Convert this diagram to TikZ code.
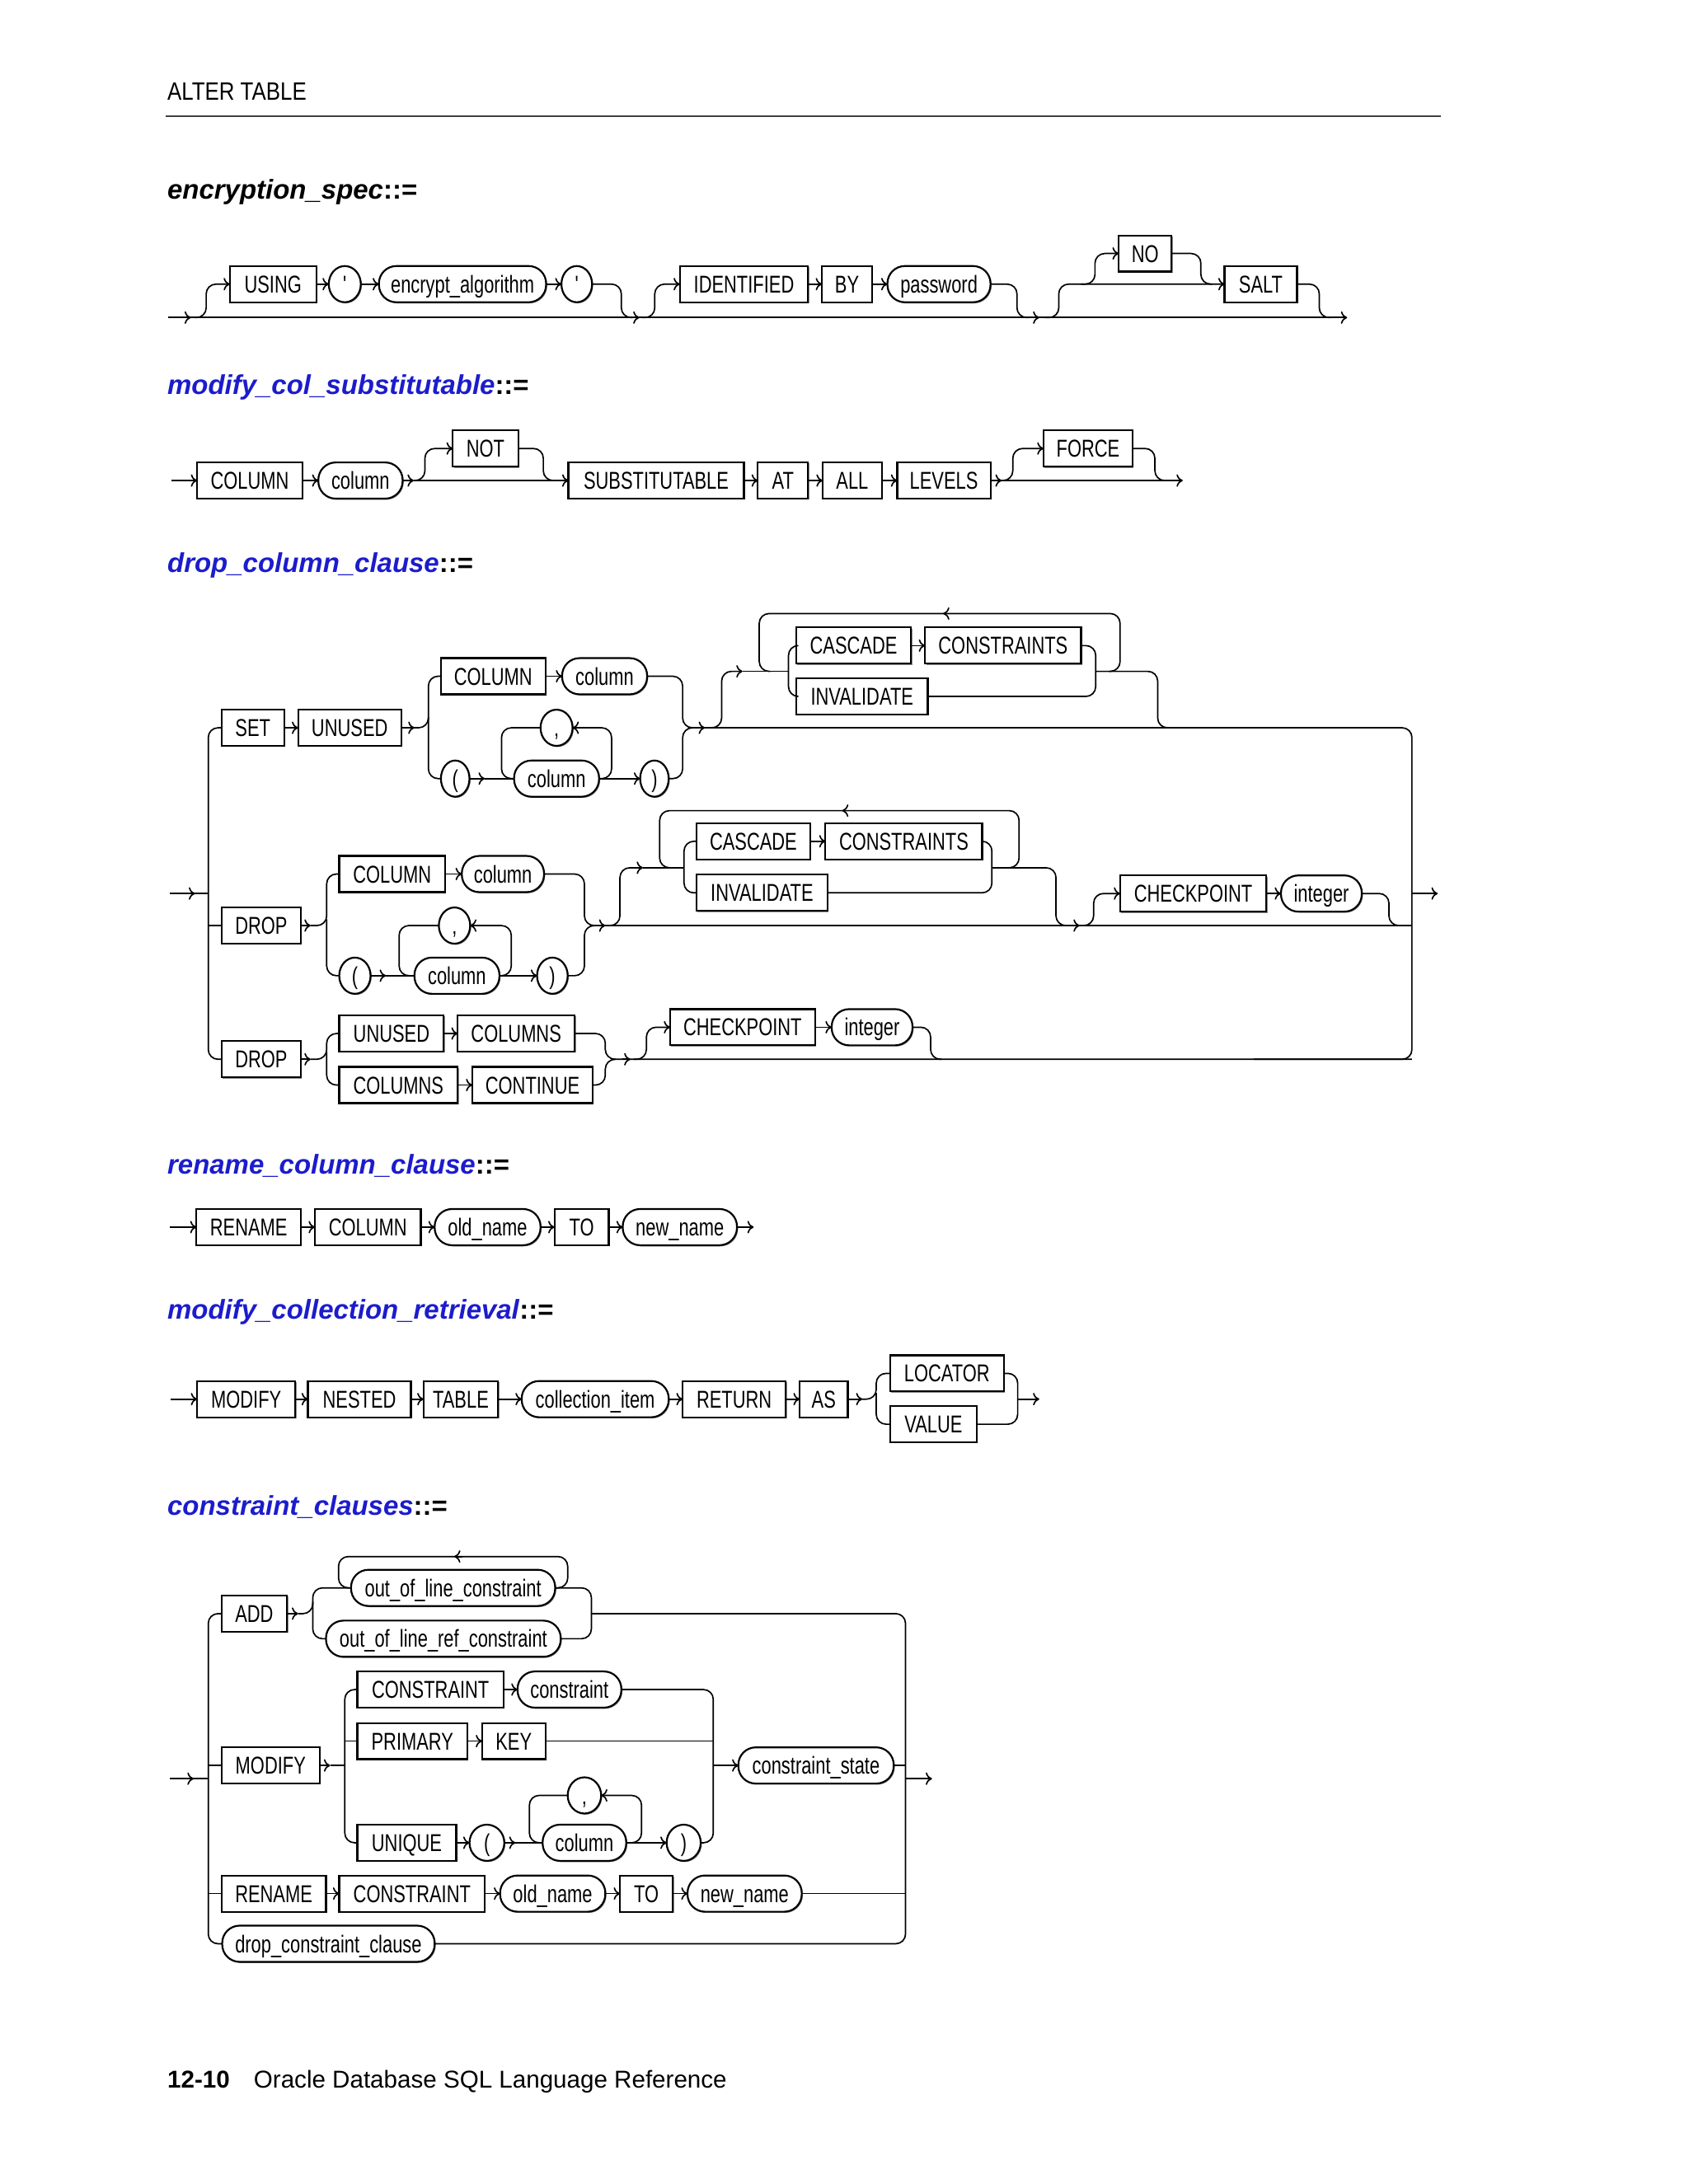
\documentclass[tikz,border=0pt]{standalone}
\usepackage{fontspec}
\setmainfont{Liberation Sans}
\newfontfamily\narrowfont[FakeStretch=0.74]{Liberation Sans}
\newfontfamily\headfont[FakeStretch=0.85]{Liberation Sans}
\usetikzlibrary{arrows.meta,shadows,shapes.geometric}
\definecolor{ttlblue}{RGB}{28,28,204}
\tikzset{
  rail/.style={line width=1pt, rounded corners=7pt},
  arr/.style={-{Computer Modern Rightarrow[length=4.5pt,width=9pt]}},
  box/.style={draw, line width=1.3pt, inner sep=0pt, outer sep=0pt,
    minimum height=26pt, text height=12.5pt, text depth=0pt,
    font=\narrowfont\fontsize{17.5}{20}\selectfont, fill=white,
    drop shadow={shadow xshift=0.8pt, shadow yshift=-0.8pt, fill=black, opacity=0.45}},
  kw/.style={box, rectangle},
  nt/.style={box, rectangle, rounded corners=12.5pt},
  ov/.style={box, ellipse},
  ttl/.style={anchor=base west, inner sep=0pt, font=\bfseries\fontsize{19.5}{22}\selectfont},
  plain/.style={anchor=base west, inner sep=0pt},
}
\newcommand\KW[5]{\node[kw,minimum width={((#3)-(#2))*1pt}] (#1) at ({((#2)+(#3))/2},#4) {#5};}
\newcommand\NT[5]{\node[nt,minimum width={((#3)-(#2))*1pt}] (#1) at ({((#2)+(#3))/2},#4) {#5};}
\newcommand\OV[5]{\node[ov,minimum width={((#3)-(#2))*1pt}] (#1) at ({((#2)+(#3))/2},#4) {#5};}
\newcommand\midarr[2]{\draw[rail,arr] ({#1-6},#2) -- (#1,#2);}
\newcommand\midarl[2]{\draw[rail,arr] ({#1+6},#2) -- (#1,#2);}
\begin{document}
\begin{tikzpicture}[x=1pt,y=-1pt]
\fill[white] (0,0) rectangle (1212,1568);
\useasboundingbox (0,0) rectangle (1212,1568);

% ---------- header ----------
\node[plain, font=\headfont\fontsize{18}{20}\selectfont] (hdr) at (120,72) {ALTER TABLE};
\coordinate (hl) at (119,83.5); \coordinate (hr) at (1034,83.5);
\draw[line width=0.9pt, black!75] (hl) -- (hr);

% ---------- encryption_spec ----------
\node[ttl] (t1) at (120,143) {\textit{encryption\_spec}::=};
\KW{using}{165}{227}{204}{USING}
\OV{qa}{236}{259}{204}{'}
\NT{encalg}{272}{392}{204}{encrypt\_algorithm}
\OV{qb}{403}{425}{204}{'}
\KW{ident}{488}{580}{204}{IDENTIFIED}
\KW{by}{590}{626}{204}{BY}
\NT{pwd}{637}{711}{204}{password}
\KW{no}{803}{841}{182}{NO}
\KW{salt}{879}{931}{204}{SALT}
\coordinate (e0) at (121,228); \coordinate (e9) at (967,228);
\draw[rail,arr] (e0) -- (e9);
\midarr{137}{228}
\draw[rail,arr] (140,228) -- (148,228) -- (148,204) -- (using.west);
\draw[rail,arr] (using.east) -- (qa.west);
\draw[rail,arr] (qa.east) -- (encalg.west);
\draw[rail,arr] (encalg.east) -- (qb.west);
\draw[rail] (qb.east) -- (446,204) -- (446,228) -- (454,228);
\midarr{459}{228}
\draw[rail,arr] (461,228) -- (470,228) -- (470,204) -- (ident.west);
\draw[rail,arr] (ident.east) -- (by.west);
\draw[rail,arr] (by.east) -- (pwd.west);
\draw[rail] (pwd.east) -- (730,204) -- (730,228) -- (738,228);
\midarr{746}{228}
\draw[rail,arr] (750,228) -- (760,228) -- (760,204) -- (salt.west);
\draw[rail,arr] (776,204) -- (786,204) -- (786,182) -- (no.west);
\draw[rail] (no.east) -- (862,182) -- (862,204) -- (870,204);
\draw[rail] (salt.east) -- (947,204) -- (947,228) -- (955,228);

% ---------- modify_col_substitutable ----------
\node[ttl] (t2) at (120,283) {\textcolor{ttlblue}{\textit{modify\_col\_substitutable}}::=};
\KW{mcol}{141.5}{217}{345}{COLUMN}
\NT{mcolv}{228.5}{289}{345}{column}
\KW{not}{325}{372}{322}{NOT}
\KW{subst}{408}{534}{345}{SUBSTITUTABLE}
\KW{at}{544}{580}{345}{AT}
\KW{all}{590.5}{633}{345}{ALL}
\KW{levels}{644}{711}{345}{LEVELS}
\KW{force}{749}{813}{322}{FORCE}
\coordinate (m0) at (123,345); \coordinate (m9) at (849,345);
\draw[rail,arr] (m0) -- (mcol.west);
\draw[rail,arr] (mcol.east) -- (mcolv.west);
\draw[rail,arr] (mcolv.east) -- (297,345);
\draw[rail,arr] (297,345) -- (subst.west);
\draw[rail,arr] (297,345) -- (305,345) -- (305,322) -- (not.west);
\draw[rail] (not.east) -- (390,322) -- (390,345) -- (398,345);
\draw[rail,arr] (subst.east) -- (at.west);
\draw[rail,arr] (at.east) -- (all.west);
\draw[rail,arr] (all.east) -- (levels.west);
\draw[rail,arr] (levels.east) -- (719,345);
\draw[rail,arr] (719,345) -- (m9);
\draw[rail,arr] (719,345) -- (727,345) -- (727,322) -- (force.west);
\draw[rail] (force.east) -- (829,322) -- (829,345) -- (837,345);

% ---------- drop_column_clause ----------
\node[ttl] (t3) at (120,411) {\textcolor{ttlblue}{\textit{drop\_column\_clause}}::=};
% SET UNUSED branch
\KW{set}{159}{204}{522.5}{SET}
\KW{unused}{214}{288}{522.5}{UNUSED}
\KW{scol}{316.5}{391.5}{485.5}{COLUMN}
\NT{scolv}{403.5}{464.5}{485.5}{column}
\OV{slp}{316.5}{337}{559}{(}
\NT{scol2}{369}{430}{559}{column}
\OV{srp}{459.5}{480}{559}{)}
\OV{scom}{388}{411}{522.5}{,}
\KW{scasc}{571.5}{654}{463.5}{CASCADE}
\KW{scons}{664}{776}{463.5}{CONSTRAINTS}
\KW{sinv}{571.5}{666}{500}{INVALIDATE}
% DROP 1 branch
\KW{dropa}{159}{216}{664.5}{DROP}
\KW{dcol}{243.5}{319.5}{627.5}{COLUMN}
\NT{dcolv}{331.5}{390.5}{627.5}{column}
\OV{dlp}{243.5}{266}{700.5}{(}
\NT{dcol2}{297.5}{358.5}{700.5}{column}
\OV{drp}{385.5}{407.5}{700.5}{)}
\OV{dcom}{315}{337.5}{664.5}{,}
\KW{dcasc}{500}{581.5}{604}{CASCADE}
\KW{dcons}{592.5}{705}{604}{CONSTRAINTS}
\KW{dinv}{500}{594}{641}{INVALIDATE}
\KW{dchk}{804}{909}{641.5}{CHECKPOINT}
\NT{dint}{919.5}{977.5}{641.5}{integer}
% DROP 2 branch
\KW{dropb}{159}{216}{760.5}{DROP}
\KW{uunused}{243.5}{318.5}{742}{UNUSED}
\KW{ucols}{328.5}{412.5}{742}{COLUMNS}
\KW{ccols}{243.5}{328.5}{779}{COLUMNS}
\KW{ccont}{339}{425.5}{779}{CONTINUE}
\KW{uchk}{481}{585}{737.5}{CHECKPOINT}
\NT{uint}{597}{655}{737.5}{integer}
% rails
\coordinate (d0) at (122,641.5); \coordinate (d9) at (1032,641.5);
\draw[rail] (d0) -- (149.5,641.5);
\midarr{140}{641.5}
\draw[rail] (set.west) -- (149.5,522.5) -- (149.5,760.5) -- (dropb.west);
\draw[rail] (149.5,664.5) -- (dropa.west);
\draw[rail] (840,522.5) -- (1013.5,522.5) -- (1013.5,760.5) -- (900,760.5);
\draw[rail,arr] (1013.5,641.5) -- (d9);
% SET branch lines
\draw[rail,arr] (set.east) -- (unused.west);
\draw[rail,arr] (unused.east) -- (297.5,522.5);
\draw[rail] (297,522.5) -- (307.5,522.5) -- (307.5,485.5) -- (scol.west);
\draw[rail] (307.5,515) -- (307.5,559) -- (slp.west);
\draw[rail,arr] (scol.east) -- (scolv.west);
\draw[rail,arr] (slp.east) -- (348,559);
\draw[rail] (348,559) -- (scol2.west);
\draw[rail,arr] (scol2.east) -- (srp.west);
\draw[rail,arr] (431,559) -- (439,559) -- (439,522.5) -- (scom.east);
\draw[rail] (scom.west) -- (360,522.5) -- (360,559) -- (368,559);
\draw[rail] (scolv.east) -- (490,485.5) -- (490,522.5) -- (845,522.5);
\draw[rail] (srp.east) -- (490,559) -- (490,522.5) -- (498,522.5);
\midarr{506}{522.5}
\draw[rail,arr] (510,522.5) -- (518,522.5) -- (518,482) -- (533,482);
\draw[rail] (533,482) -- (566,482);
\draw[rail] (scasc.west) -- (566,463.5) -- (566,500) -- (sinv.west);
\draw[rail,arr] (scasc.east) -- (scons.west);
\draw[rail] (scons.east) -- (786.5,463.5) -- (786.5,500) -- (sinv.east);
\draw[rail] (786.5,482) -- (831,482) -- (831,522.5) -- (839,522.5);
\draw[rail] (796,482) -- (804,482) -- (804,440.5) -- (545,440.5) -- (545,482) -- (553,482);
\midarl{677}{440.5}
% DROP 1 lines
\draw[rail,arr] (dropa.east) -- (223,664.5);
\draw[rail] (223,664.5) -- (234.5,664.5) -- (234.5,627.5) -- (dcol.west);
\draw[rail] (234.5,660) -- (234.5,700.5) -- (dlp.west);
\draw[rail,arr] (dcol.east) -- (dcolv.west);
\draw[rail,arr] (dlp.east) -- (277,700.5);
\draw[rail] (277,700.5) -- (dcol2.west);
\draw[rail,arr] (dcol2.east) -- (drp.west);
\draw[rail,arr] (359.5,700.5) -- (367,700.5) -- (367,664.5) -- (dcom.east);
\draw[rail] (dcom.west) -- (286.5,664.5) -- (286.5,700.5) -- (294,700.5);
\draw[rail] (dcolv.east) -- (419.5,627.5) -- (419.5,664.5) -- (1013.5,664.5);
\draw[rail] (drp.east) -- (419.5,700.5) -- (419.5,664.5) -- (427,664.5);
\midarr{434.5}{664.5}
\draw[rail,arr] (437,664.5) -- (445,664.5) -- (445,623) -- (461.5,623);
\draw[rail] (461.5,623) -- (491,623);
\draw[rail] (dcasc.west) -- (491,604) -- (491,641) -- (dinv.west);
\draw[rail,arr] (dcasc.east) -- (dcons.west);
\draw[rail] (dcons.east) -- (712,604) -- (712,641) -- (dinv.east);
\draw[rail] (712,623) -- (758,623) -- (758,664.5) -- (766,664.5);
\draw[rail] (724,623) -- (731.5,623) -- (731.5,582) -- (473.5,582) -- (473.5,623) -- (481,623);
\midarl{604.5}{582}
\midarr{775}{664.5}
\draw[rail,arr] (777,664.5) -- (785,664.5) -- (785,641.5) -- (dchk.west);
\draw[rail,arr] (dchk.east) -- (dint.west);
\draw[rail] (dint.east) -- (997,641.5) -- (997,664.5) -- (1005,664.5);
% DROP 2 lines
\draw[rail,arr] (dropb.east) -- (223,760.5);
\draw[rail] (223,760.5) -- (234.5,760.5) -- (234.5,742) -- (uunused.west);
\draw[rail] (234.5,755) -- (234.5,779) -- (ccols.west);
\draw[rail,arr] (uunused.east) -- (ucols.west);
\draw[rail,arr] (ccols.east) -- (ccont.west);
\draw[rail] (ucols.east) -- (434.5,742) -- (434.5,760.5) -- (1013.5,760.5);
\draw[rail] (ccont.east) -- (434.5,779) -- (434.5,760.5) -- (442,760.5);
\midarr{452.5}{760.5}
\draw[rail,arr] (455,760.5) -- (464,760.5) -- (464,737.5) -- (uchk.west);
\draw[rail,arr] (uchk.east) -- (uint.west);
\draw[rail] (uint.east) -- (668,737.5) -- (668,760.5) -- (676,760.5);

% ---------- rename_column_clause ----------
\node[ttl] (t4) at (120,843) {\textcolor{ttlblue}{\textit{rename\_column\_clause}}::=};
\KW{rren}{141}{216}{881}{RENAME}
\KW{rcol}{226}{302}{881}{COLUMN}
\NT{rold}{312}{388}{881}{old\_name}
\KW{rto}{398}{437}{881}{TO}
\NT{rnew}{447}{529}{881}{new\_name}
\coordinate (r0) at (122,881); \coordinate (r9) at (541,881);
\draw[rail,arr] (r0) -- (rren.west);
\draw[rail,arr] (rren.east) -- (rcol.west);
\draw[rail,arr] (rcol.east) -- (rold.west);
\draw[rail,arr] (rold.east) -- (rto.west);
\draw[rail,arr] (rto.east) -- (rnew.west);
\draw[rail,arr] (rnew.east) -- (r9);

% ---------- modify_collection_retrieval ----------
\node[ttl] (t5) at (120,947) {\textcolor{ttlblue}{\textit{modify\_collection\_retrieval}}::=};
\KW{cmod}{141.5}{212}{1004.5}{MODIFY}
\KW{cnest}{221}{295}{1004.5}{NESTED}
\KW{ctab}{304}{357.5}{1004.5}{TABLE}
\NT{citem}{374.5}{480}{1004.5}{collection\_item}
\KW{cret}{490}{564}{1004.5}{RETURN}
\KW{cas}{574}{608.5}{1004.5}{AS}
\KW{cloc}{639}{720.5}{986}{LOCATOR}
\KW{cval}{639}{701}{1022.5}{VALUE}
\coordinate (c0) at (122.5,1004.5); \coordinate (c9) at (746,1004.5);
\draw[rail,arr] (c0) -- (cmod.west);
\draw[rail,arr] (cmod.east) -- (cnest.west);
\draw[rail,arr] (cnest.east) -- (ctab.west);
\draw[rail,arr] (ctab.east) -- (citem.west);
\draw[rail,arr] (citem.east) -- (cret.west);
\draw[rail,arr] (cret.east) -- (cas.west);
\draw[rail,arr] (cas.east) -- (619,1004.5);
\draw[rail] (619,1004.5) -- (629,1004.5) -- (629,986) -- (cloc.west);
\draw[rail] (629,1000) -- (629,1022.5) -- (cval.west);
\draw[rail] (cloc.east) -- (730.5,986) -- (730.5,1022.5) -- (cval.east);
\draw[rail,arr] (730.5,1004.5) -- (c9);

% ---------- constraint_clauses ----------
\node[ttl] (t6) at (120,1088) {\textcolor{ttlblue}{\textit{constraint\_clauses}}::=};
\KW{kadd}{159}{206}{1158.5}{ADD}
\NT{kool}{252}{398.5}{1140}{out\_of\_line\_constraint}
\NT{koolr}{234}{402.5}{1176.5}{out\_of\_line\_ref\_constraint}
\KW{kmod}{159}{229.5}{1267.5}{MODIFY}
\KW{kcons}{256.5}{361.5}{1213}{CONSTRAINT}
\NT{kconsv}{371.5}{446}{1213}{constraint}
\KW{kprim}{256.5}{335.5}{1250}{PRIMARY}
\KW{kkey}{346}{391.5}{1250}{KEY}
\KW{kuniq}{256.5}{327.5}{1323}{UNIQUE}
\OV{klp}{337}{362}{1323}{(}
\NT{kcol}{389.5}{449.5}{1323}{column}
\OV{krp}{478.5}{503}{1323}{)}
\OV{kcom}{407.5}{431.5}{1289}{,}
\NT{kstate}{530}{641.5}{1267.5}{constraint\_state}
\KW{kren}{159}{234}{1359.5}{RENAME}
\KW{krcons}{243.5}{348}{1359.5}{CONSTRAINT}
\NT{kold}{359}{434.5}{1359.5}{old\_name}
\KW{kto}{445}{483}{1359.5}{TO}
\NT{knew}{493.5}{575.5}{1359.5}{new\_name}
\NT{kdrop}{159.5}{312}{1395.5}{drop\_constraint\_clause}
\coordinate (k0) at (122,1277); \coordinate (k9) at (669,1277);
\draw[rail] (k0) -- (149.5,1277);
\midarr{139}{1277}
\draw[rail] (kadd.west) -- (149.5,1158.5) -- (149.5,1395.5) -- (kdrop.west);
\draw[rail] (149.5,1267.5) -- (kmod.west);
\draw[rail] (149.5,1359.5) -- (kren.west);
\draw[rail] (424.5,1158.5) -- (650,1158.5) -- (650,1395.5) -- (kdrop.east);
\draw[rail] (kstate.east) -- (650,1267.5);
\draw[rail] (knew.east) -- (650,1359.5);
\draw[rail,arr] (650,1277) -- (k9);
% ADD
\draw[rail,arr] (kadd.east) -- (214,1158.5);
\draw[rail] (214,1158.5) -- (224.5,1158.5) -- (224.5,1140) -- (kool.west);
\draw[rail] (224.5,1150) -- (224.5,1176.5) -- (koolr.west);
\draw[rail] (kool.east) -- (424.5,1140) -- (424.5,1176.5) -- (koolr.east);
\draw[rail] (399,1140) -- (407.5,1140) -- (407.5,1117.5) -- (243,1117.5) -- (243,1140) -- (251,1140);
\midarl{326}{1117.5}
% MODIFY
\draw[rail,arr] (kmod.east) -- (237,1267.5);
\draw[rail] (237,1267.5) -- (247.5,1267.5);
\draw[rail] (kcons.west) -- (247.5,1213) -- (247.5,1323) -- (kuniq.west);
\draw[rail] (247.5,1250) -- (kprim.west);
\draw[rail,arr] (kcons.east) -- (kconsv.west);
\draw[rail,arr] (kprim.east) -- (kkey.west);
\draw[rail,arr] (kuniq.east) -- (klp.west);
\draw[rail,arr] (klp.east) -- (370,1323);
\draw[rail] (370,1323) -- (kcol.west);
\draw[rail,arr] (kcol.east) -- (krp.west);
\draw[rail,arr] (451,1323) -- (460.5,1323) -- (460.5,1289) -- (kcom.east);
\draw[rail] (kcom.west) -- (380,1289) -- (380,1323) -- (388,1323);
\draw[rail] (kconsv.east) -- (512,1213) -- (512,1323) -- (krp.east);
\draw[rail] (kkey.east) -- (512,1250);
\draw[rail,arr] (512,1267.5) -- (kstate.west);
% RENAME
\draw[rail,arr] (kren.east) -- (krcons.west);
\draw[rail,arr] (krcons.east) -- (kold.west);
\draw[rail,arr] (kold.east) -- (kto.west);
\draw[rail,arr] (kto.east) -- (knew.west);

% ---------- footer ----------
\node[plain, font=\bfseries\fontsize{17.5}{20}\selectfont] (pg) at (120,1499) {12-10};
\node[plain, font=\fontsize{17.5}{20}\selectfont] (ft) at (182,1499) {Oracle Database SQL Language Reference};
\end{tikzpicture}
\end{document}
